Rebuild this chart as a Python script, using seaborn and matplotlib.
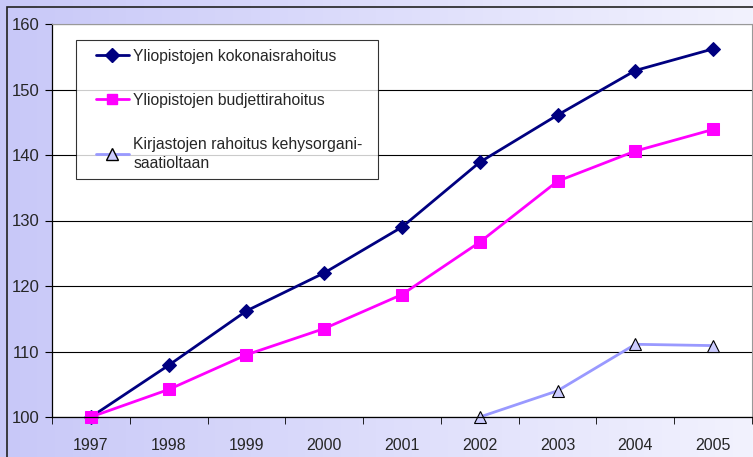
import numpy as np
import pandas as pd
import seaborn as sns
import matplotlib.pyplot as plt
from matplotlib.colors import LinearSegmentedColormap
from matplotlib.legend_handler import HandlerLine2D

years = ["1997", "1998", "1999", "2000", "2001", "2002", "2003", "2004", "2005"]
kokonais = [100, 107.9, 116.2, 122.0, 129.0, 138.9, 146.1, 152.9, 156.2]
budjetti = [100, 104.2, 109.5, 113.5, 118.7, 126.7, 136.0, 140.6, 143.9]
kirjasto = [np.nan, np.nan, np.nan, np.nan, np.nan, 100, 104.0, 111.1, 110.9]

names = ["Yliopistojen kokonaisrahoitus",
         "Yliopistojen budjettirahoitus",
         "Kirjastojen rahoitus kehysorgani-\nsaatioltaan"]

df = pd.DataFrame({"vuosi": years, names[0]: kokonais,
                   names[1]: budjetti, names[2]: kirjasto})
long = df.melt(id_vars="vuosi", var_name="sarja", value_name="arvo")
long["x"] = long["vuosi"].map({y: i for i, y in enumerate(years)})

sns.set_style("white")
plt.rcParams["font.family"] = ["Liberation Sans", "DejaVu Sans"]

fig = plt.figure(figsize=(7.53, 4.57), dpi=100)

# gradient background with frame line at top/left
bg = fig.add_axes([0, 0, 1, 1], zorder=-10)
grad = np.linspace(0, 1, 256).reshape(1, -1)
cmap = LinearSegmentedColormap.from_list("bg", ["#c8c8f8", "#f2f2fe"])
bg.imshow(grad, aspect="auto", cmap=cmap, extent=[0, 1, 0, 1])
bg.add_patch(plt.Rectangle((7 / 753, -0.1), 2, 1.1 - 7 / 457, fill=False,
                           edgecolor="#222222", lw=1.2))
bg.set_xlim(0, 1)
bg.set_ylim(0, 1)
bg.axis("off")

ax = fig.add_axes([52 / 753, 40 / 457, 700 / 753, 393 / 457])
ax.set_facecolor("white")

palette = {names[0]: "#000080", names[1]: "#ff00ff", names[2]: "#9999ff"}
markers = {names[0]: "D", names[1]: "s", names[2]: "^"}
sns.lineplot(data=long, x="x", y="arvo", hue="sarja", style="sarja",
             palette=palette, markers=markers, dashes=False, linewidth=2,
             ax=ax, legend=False)

for line, nm in zip(ax.lines, names):
    line.set_clip_on(False)
    if nm == names[0]:
        line.set_markerfacecolor("#000080")
        line.set_markeredgecolor("#000080")
        line.set_markersize(7)
    elif nm == names[1]:
        line.set_markerfacecolor("#ff00ff")
        line.set_markeredgecolor("#ff00ff")
        line.set_markersize(8)
    else:
        line.set_markerfacecolor("#ccccff")
        line.set_markeredgecolor("black")
        line.set_markeredgewidth(0.8)
        line.set_markersize(9)

ax.set_xlim(-0.5, len(years) - 0.5)
ax.set_ylim(100, 160)
ax.set_yticks(range(100, 161, 10))
ax.set_xticks(range(len(years)))
ax.set_xticklabels(years)
ax.set_xticks(np.arange(-0.5, len(years), 1), minor=True)
ax.tick_params(axis="x", which="major", length=0, pad=15, labelsize=11.5)
ax.tick_params(axis="x", which="minor", length=5, direction="out",
               bottom=True, color="black")
ax.tick_params(axis="y", length=5, direction="out", left=True,
               color="black", labelsize=12, pad=4)
ax.yaxis.grid(True, color="black", lw=0.8)
ax.set_axisbelow(True)
ax.set_xlabel("")
ax.set_ylabel("")
for side in ["left", "bottom"]:
    ax.spines[side].set_color("black")
    ax.spines[side].set_linewidth(0.9)
for side in ["top", "right"]:
    ax.spines[side].set_color("#999999")
    ax.spines[side].set_linewidth(0.8)


# legend handles start a bit further in from the frame
class ShiftedLine(HandlerLine2D):
    def create_artists(self, legend, orig_handle, xdescent, ydescent,
                       width, height, fontsize, trans):
        shift = 0.7 * fontsize
        return super().create_artists(legend, orig_handle, xdescent - shift,
                                      ydescent, width - shift, height,
                                      fontsize, trans)


handles = [plt.Line2D([], [], color=palette[n], marker=markers[n], lw=2,
                      markersize=7 if n != names[2] else 8,
                      markerfacecolor=palette[n] if n != names[2] else "#ccccff",
                      markeredgecolor=palette[n] if n != names[2] else "black")
           for n in names]
leg = ax.legend(handles, names, loc="upper left",
                bbox_to_anchor=(24 / 700, (417 - 177) / 393, 302 / 700, 137 / 393),
                mode="expand", fontsize=11.3, frameon=True, fancybox=False,
                handlelength=2.8, handletextpad=0.3, labelspacing=1.85,
                borderpad=0.56, borderaxespad=0,
                handler_map={plt.Line2D: ShiftedLine()})
leg.get_frame().set_edgecolor("black")
leg.get_frame().set_linewidth(0.8)
for t in leg.get_texts():
    t.set_linespacing(1.32)

fig.savefig("out.png", dpi=100)
